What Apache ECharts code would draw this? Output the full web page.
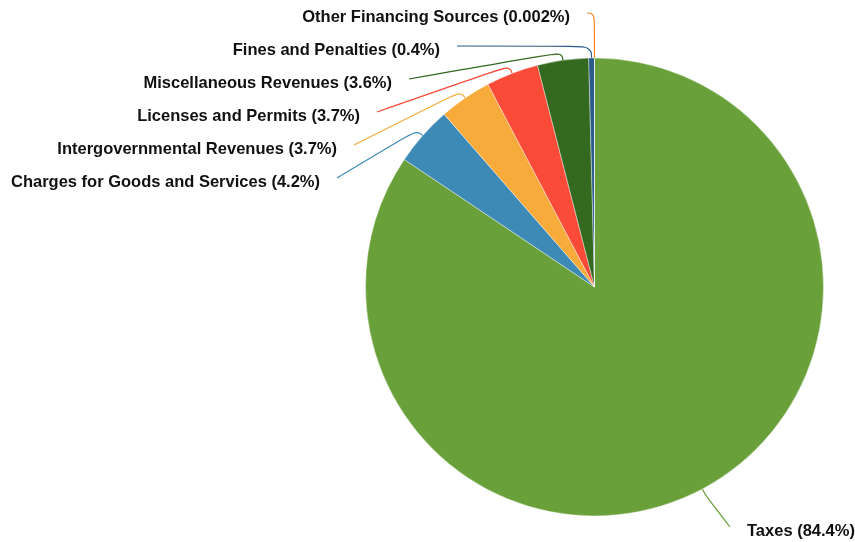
<!DOCTYPE html>
<html>
<head>
<meta charset="utf-8">
<script src="https://cdn.jsdelivr.net/npm/echarts@6/dist/echarts.min.js"></script>
<style>
  html, body { margin: 0; padding: 0; background: #fff; }
  #chart { width: 855px; height: 542px; }
</style>
</head>
<body>
<div id="chart"></div>
<script>
// Revenue sources, share of total (%)
const categories = [
  'Taxes',
  'Charges for Goods and Services',
  'Intergovernmental Revenues',
  'Licenses and Permits',
  'Miscellaneous Revenues',
  'Fines and Penalties',
  'Other Financing Sources'
];
const shares = [84.4, 4.2, 3.7, 3.7, 3.6, 0.4, 0.002];

// Slice colours, in category order
const palette = ['#6aa03a', '#3d8ab6', '#f8ab3b', '#fa4a38', '#346a20', '#2b5b8b', '#f5821f'];

// Label anchor points (end of each leader line), keyed by category index
const labelAnchors = {
  0: { x: 730, y: 527, side: 'right' },
  1: { x: 337, y: 178, side: 'left' },
  2: { x: 354, y: 145, side: 'left' },
  3: { x: 377, y: 112, side: 'left' },
  4: { x: 409, y: 79, side: 'left' },
  5: { x: 457, y: 46, side: 'left' },
  6: { x: 587, y: 13, side: 'left' }
};

const CX = 594.5, CY = 287, R = 229;
const TEXT_GAP = 17;   // gap between leader-line end and text
const FIRST_LEG = 8;   // minimum radial leg of the leader line

const chart = echarts.init(document.getElementById('chart'), null, { renderer: 'canvas' });

const seriesData = categories.map((name, i) => ({
  name: name,
  value: shares[i],
  itemStyle: { color: palette[i] },
  labelLine: { lineStyle: { color: palette[i] } }
}));

chart.setOption({
  animation: false,
  backgroundColor: '#fff',
  series: [{
    type: 'pie',
    center: [CX, CY],
    radius: [0, R],
    startAngle: 90,
    clockwise: true,
    avoidLabelOverlap: false,
    data: seriesData,
    itemStyle: { borderColor: '#ffffff', borderWidth: 0.4 },
    label: {
      show: true,
      position: 'outside',
      formatter: p => p.name + ' (' + p.value + '%)',
      fontFamily: '"Liberation Sans", Arial, Helvetica, sans-serif',
      fontWeight: 'bold',
      fontSize: 16.5,
      color: '#111'
    },
    labelLine: {
      show: true,
      length: FIRST_LEG,
      length2: 10,
      smooth: 0.5,
      lineStyle: { width: 1.2 }
    },
    labelLayout: function (params) {
      const a = labelAnchors[params.dataIndex];
      const pts = params.labelLinePoints;
      if (!a || !pts) return {};
      const p0 = pts[0];
      let dx = p0[0] - CX, dy = p0[1] - CY;
      const d = Math.sqrt(dx * dx + dy * dy) || 1;
      dx /= d; dy /= d;
      // radial leg: long enough to rise to the anchor's level when the anchor sits above
      let len = FIRST_LEG;
      if (dy < -0.5 && p0[1] - a.y > len) len = (p0[1] - a.y) / -dy;
      const p1 = [p0[0] + dx * len, p0[1] + dy * len];
      const isLeft = a.side === 'left';
      return {
        x: isLeft ? a.x - TEXT_GAP : a.x + TEXT_GAP,
        y: a.y + 4,
        align: isLeft ? 'right' : 'left',
        verticalAlign: 'middle',
        labelLinePoints: [p0, p1, [a.x, a.y]]
      };
    }
  }]
});
</script>
</body>
</html>
